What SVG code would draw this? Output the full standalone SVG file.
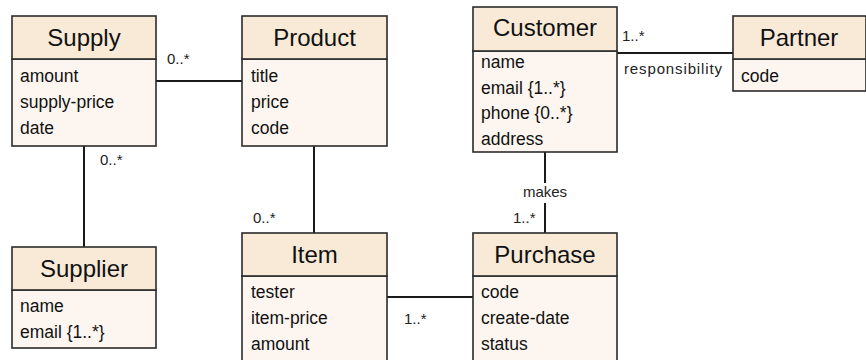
<svg xmlns="http://www.w3.org/2000/svg" width="866" height="360" viewBox="0 0 866 360">
<style>
.hd{fill:#f9ead8;stroke:#2b2b2b;stroke-width:1.6}
.bd{fill:#fdf6f0;stroke:#2b2b2b;stroke-width:1.6}
.t{font-family:"Liberation Sans",Arial,sans-serif;font-size:24px;fill:#111;text-anchor:middle}
.a{font-family:"Liberation Sans",Arial,sans-serif;font-size:17.5px;fill:#111}
.l{font-family:"Liberation Sans",Arial,sans-serif;font-size:15px;fill:#222}
.c{stroke:#1a1a1a;stroke-width:2;fill:none}
</style>
<rect width="866" height="360" fill="#fff"/>
<g id="connectors">
<line class="c" x1="156" y1="81" x2="242" y2="81"/>
<line class="c" x1="84" y1="146" x2="84" y2="247"/>
<line class="c" x1="314" y1="146" x2="314" y2="233"/>
<line class="c" x1="545" y1="152" x2="545" y2="183"/>
<line class="c" x1="545" y1="203" x2="545" y2="233"/>
<line class="c" x1="387" y1="297" x2="473" y2="297"/>
<line class="c" x1="617" y1="53" x2="733" y2="53"/>
<text class="l" x="167" y="64">0..*</text>
<text class="l" x="100" y="165">0..*</text>
<text class="l" x="253" y="223">0..*</text>
<text class="l" x="513" y="223">1..*</text>
<text class="l" x="545" y="197" text-anchor="middle">makes</text>
<text class="l" x="404" y="324">1..*</text>
<text class="l" x="622" y="41">1..*</text>
<text class="l" x="624" y="74" textLength="98">responsibility</text>
</g>
<g id="supply">
<rect class="bd" x="12" y="59" width="144" height="87"/>
<rect class="hd" x="12" y="16" width="144" height="43"/>
<text class="t" x="84" y="46">Supply</text>
<text class="a" x="20" y="82">amount</text>
<text class="a" x="20" y="108">supply-price</text>
<text class="a" x="20" y="134">date</text>
</g>
<g id="product">
<rect class="bd" x="242" y="59" width="145" height="87"/>
<rect class="hd" x="242" y="16" width="145" height="43"/>
<text class="t" x="314.5" y="46">Product</text>
<text class="a" x="251" y="82">title</text>
<text class="a" x="251" y="108">price</text>
<text class="a" x="251" y="134">code</text>
</g>
<g id="customer">
<rect class="bd" x="473" y="51" width="144" height="101"/>
<rect class="hd" x="473" y="7" width="144" height="44"/>
<text class="t" x="545" y="36">Customer</text>
<text class="a" x="481" y="68">name</text>
<text class="a" x="481" y="94">email {1..*}</text>
<text class="a" x="481" y="119">phone {0..*}</text>
<text class="a" x="481" y="145">address</text>
</g>
<g id="partner">
<rect class="bd" x="733" y="59" width="133" height="32"/>
<rect class="hd" x="733" y="16" width="133" height="43"/>
<text class="t" x="799" y="46">Partner</text>
<text class="a" x="741" y="82">code</text>
</g>
<g id="supplier">
<rect class="bd" x="12" y="290" width="144" height="58"/>
<rect class="hd" x="12" y="247" width="144" height="43"/>
<text class="t" x="84" y="277">Supplier</text>
<text class="a" x="20" y="312">name</text>
<text class="a" x="20" y="338">email {1..*}</text>
</g>
<g id="item">
<rect class="bd" x="242" y="276" width="145" height="100"/>
<rect class="hd" x="242" y="233" width="145" height="43"/>
<text class="t" x="314.5" y="263">Item</text>
<text class="a" x="251" y="298">tester</text>
<text class="a" x="251" y="324">item-price</text>
<text class="a" x="251" y="350">amount</text>
</g>
<g id="purchase">
<rect class="bd" x="473" y="276" width="144" height="100"/>
<rect class="hd" x="473" y="233" width="144" height="43"/>
<text class="t" x="545" y="263">Purchase</text>
<text class="a" x="481" y="298">code</text>
<text class="a" x="481" y="324">create-date</text>
<text class="a" x="481" y="350">status</text>
</g>
</svg>
